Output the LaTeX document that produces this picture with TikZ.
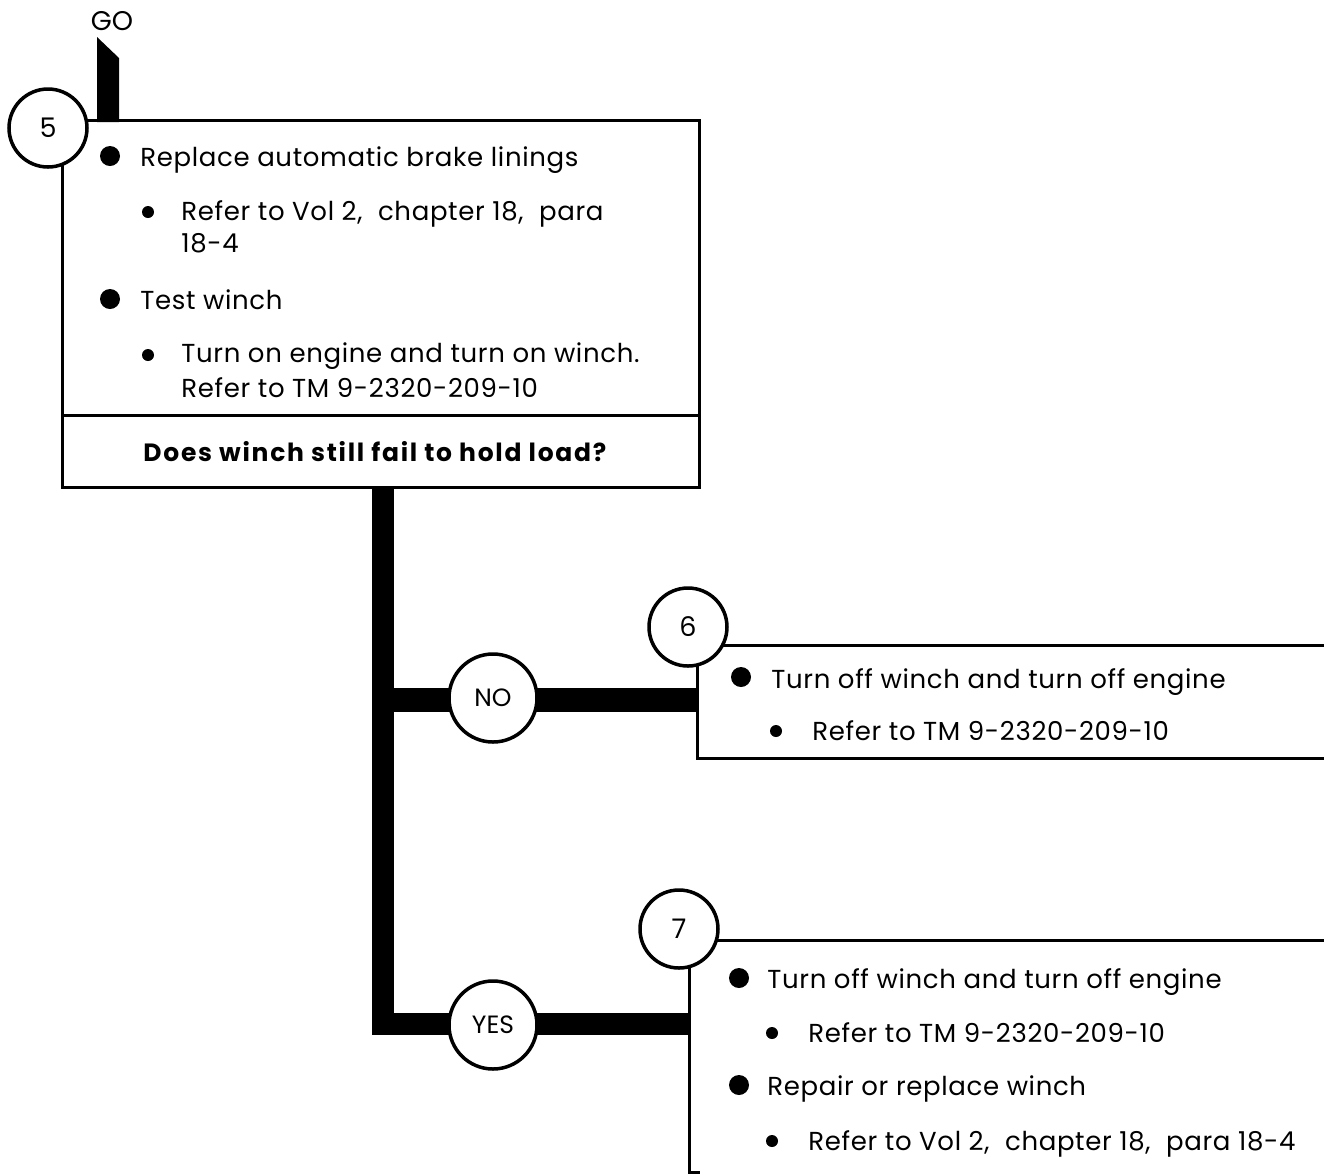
\documentclass[tikz,border=0pt]{standalone}
\usepackage{fontspec}
\setmainfont{Poppins}
\newfontfamily\spacedfont{Poppins}[LetterSpace=2.5]
\newfontfamily\spacedbold{Poppins Bold}[LetterSpace=7]
\begin{document}
\begin{tikzpicture}[x=0.5pt,y=-0.5pt,
  boxline/.style={line width=1.5pt},
  numcirc/.style={circle,draw,line width=1.75pt,fill=white,minimum size=39pt,inner sep=0pt,font=\fontsize{13.5}{15}\selectfont},
  anscirc/.style={circle,draw,line width=1.75pt,fill=white,minimum size=44pt,inner sep=0pt,font=\fontsize{12.5}{14}\selectfont},
  txt/.style={anchor=base west,inner sep=0pt,font=\spacedfont\fontsize{13}{15}\selectfont},
  bigdot/.style={circle,fill=black,minimum size=10pt,inner sep=0pt},
  smalldot/.style={circle,fill=black,minimum size=6pt,inner sep=0pt},
  bar/.style={line width=11pt,line cap=butt,line join=miter}]
\useasboundingbox (0,0) rectangle (1324,1175);
% GO flag
\node[inner sep=0pt,font=\fontsize{13.5}{15}\selectfont] (go) at (112,21) {GO};
\fill (97,122) -- (97,37) -- (119,58) -- (119,122) -- cycle;
% box 5
\node[draw,boxline,minimum width=318.5pt,minimum height=183.5pt,inner sep=0pt] (box5) at (380.5,303.5) {};
\draw[boxline] (62,415) -- (699,415);
\node[numcirc] (c5) at (48,128) {5};
% box 5 text
\node[bigdot] (d1) at (110,156) {};
\node[txt] (t1) at (140,166) {Replace automatic brake linings};
\node[smalldot] (d2) at (148,212) {};
\node[txt] (t2) at (181,220) {Refer to Vol 2,\hspace{4pt} chapter 18,\hspace{4pt} para};
\node[txt] (t3) at (181,252) {18-4};
\node[bigdot] (d3) at (110,299) {};
\node[txt] (t4) at (140,309) {Test winch};
\node[smalldot] (d4) at (148,355) {};
\node[txt] (t5) at (181,362) {Turn on engine and turn on winch.};
\node[txt] (t6) at (181,397) {Refer to TM 9-2320-209-10};
\node[txt,font=\spacedbold\fontsize{12.5}{14}\selectfont] (q) at (143,461) {Does winch still fail to hold load?};
% box 6
\coordinate (b6tr) at (1330,645);
\coordinate (b6br) at (1330,758);
\draw[boxline] (b6tr) -- (697,645) coordinate (b6tl) -- (697,758) coordinate (b6bl) -- (b6br);
\node[numcirc] (c6) at (688,627) {6};
\node[bigdot] (e1) at (741,677) {};
\node[txt] (u1) at (771,688) {Turn off winch and turn off engine};
\node[smalldot] (e2) at (776,731) {};
\node[txt] (u2) at (812,740) {Refer to TM 9-2320-209-10};
% box 7
\coordinate (b7tr) at (1330,940);
\draw[boxline] (b7tr) -- (689,940) coordinate (b7tl) -- (689,1172) coordinate (b7bl) -- (700,1172);
\node[numcirc] (c7) at (679,929) {7};
\node[bigdot] (f1) at (739,978) {};
\node[txt] (v1) at (767,988) {Turn off winch and turn off engine};
\node[smalldot] (f2) at (772,1033) {};
\node[txt] (v2) at (808,1042) {Refer to TM 9-2320-209-10};
\node[bigdot] (f3) at (739,1085) {};
\node[txt] (v3) at (767,1095) {Repair or replace winch};
\node[smalldot] (f4) at (772,1141) {};
\node[txt] (v4) at (808,1150) {Refer to Vol 2,\hspace{4pt} chapter 18,\hspace{4pt} para 18-4};
% connectors
\coordinate (top) at (382.5,487);
\coordinate (jno) at (382.5,699.5);
\coordinate (jyes) at (382.5,1024);
\coordinate (e6) at (697,699.5);
\coordinate (e7) at (689,1024);
\draw[bar] (top) -- ([yshift=-5.5pt]jyes) ;
\draw[bar,line width=12pt] ([xshift=-5.25pt]jno) -- (e6);
\draw[bar] ([xshift=-5.25pt]jyes) -- (e7);
\node[anscirc] (no) at (493,698) {NO};
\node[anscirc] (yes) at (493,1025) {YES};
\end{tikzpicture}
\end{document}
